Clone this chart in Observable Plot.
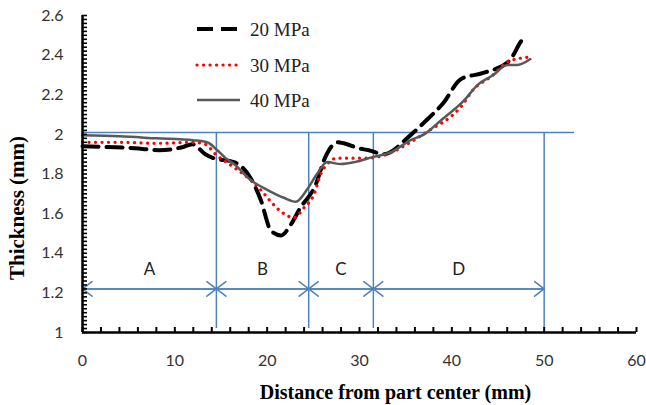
<!DOCTYPE html>
<html><head><meta charset="utf-8">
<script src="https://cdn.jsdelivr.net/npm/d3@7"></script>
<script src="https://cdn.jsdelivr.net/npm/@observablehq/plot@0.6"></script>
<style>
body{margin:0;background:#fff}
#wrap{position:relative;width:646px;height:405px}
#legend{position:absolute;left:0;top:0;pointer-events:none}
</style>
</head><body><div id="wrap"></div>
<script>
// ---- data ----
const series = ["20 MPa", "30 MPa", "40 MPa"];

const x20 = [0, 3.6, 5.7, 8.3, 10.8, 11.9, 13.3, 14.2, 16.4, 18.2, 19.3, 20.4, 21.5, 22.5, 23.6, 25.2, 26.3, 27.6, 28.3, 29.9, 31, 32.6, 35.5, 37, 39.1, 41, 43.4, 46.2, 47.5, 48];
const y20 = [1.94, 1.935, 1.93, 1.92, 1.935, 1.95, 1.90, 1.88, 1.86, 1.78, 1.67, 1.515, 1.49, 1.54, 1.63, 1.74, 1.885, 1.96, 1.955, 1.93, 1.92, 1.90, 1.995, 2.06, 2.16, 2.28, 2.31, 2.37, 2.47, 2.50];

const x30 = [0, 4, 8, 12, 13.3, 14.4, 16.2, 18.2, 19.3, 20.4, 21.5, 22.9, 24.0, 25.1, 25.8, 26.5, 27.6, 30.8, 33, 35.5, 37.9, 39.9, 41, 42.4, 44.2, 46.2, 48.5];
const y30 = [1.96, 1.96, 1.955, 1.96, 1.95, 1.90, 1.84, 1.77, 1.72, 1.66, 1.61, 1.58, 1.63, 1.70, 1.80, 1.85, 1.88, 1.88, 1.90, 1.96, 2.03, 2.09, 2.14, 2.23, 2.29, 2.37, 2.39];

const x40 = [0, 4, 8, 12, 13.5, 14.6, 15.5, 16.4, 18.2, 20.0, 21.8, 23.1, 24.3, 25.4, 26.5, 28.0, 29.5, 31.4, 33.4, 35.5, 37, 38.8, 41.3, 42.8, 44.5, 46.0, 47.1, 48.5];
const y40 = [1.995, 1.99, 1.98, 1.97, 1.96, 1.92, 1.88, 1.85, 1.77, 1.72, 1.68, 1.66, 1.72, 1.80, 1.86, 1.85, 1.86, 1.885, 1.91, 1.97, 2.0, 2.07, 2.17, 2.25, 2.30, 2.35, 2.35, 2.38];

const xTicks = [0, 10, 20, 30, 40, 50, 60];
const yTicks = [1, 1.2, 1.4, 1.6, 1.8, 2, 2.2, 2.4, 2.6];

const boundaries = [0, 14.5, 24.5, 31.5, 50];
const zones = ["A", "B", "C", "D"];
const refLevel = 2.01, refEnd = 53.3;
const arrowLevel = 1.22, zoneLabelLevel = 1.32, dividerBottom = 1.02;

const xTitle = "Distance from part center (mm)";
const yTitle = "Thickness (mm)";

// ---- tables ----
const rows = [];
[[x20, y20], [x30, y30], [x40, y40]].forEach(([xs, ys], i) =>
  xs.forEach((x, j) => rows.push({series: series[i], x, y: ys[j]})));

const zoneRows = zones.map((z, i) => ({z, a: boundaries[i], b: boundaries[i + 1], m: (boundaries[i] + boundaries[i + 1]) / 2}));
const dividers = boundaries.slice(1);

const styles = {
  "20 MPa": {stroke: "#000", strokeWidth: 4, strokeDasharray: "16 8"},
  "30 MPa": {stroke: "#ff0000", strokeWidth: 3.2, strokeDasharray: "0.1 6.4", strokeLinecap: "round"},
  "40 MPa": {stroke: "#595959", strokeWidth: 2.5}
};
const blue = "#4f81bd";
const minorX = d3.range(0, 60.001, 2);
const minorY = d3.range(1, 2.6001, 0.02);

const W = 646, H = 405, mL = 82, mR = 10, mT = 15, mB = 73;
const xDom = [0, 60], yDom = [1, 2.6];
const tickPx = 5;
// inward tick length expressed in data units of the crossing axis
const tickLenY = tickPx * (yDom[1] - yDom[0]) / (H - mT - mB);
const tickLenX = tickPx * (xDom[1] - xDom[0]) / (W - mL - mR);
const serif = "'Liberation Serif', 'Times New Roman', serif";

const chart = Plot.plot({
  width: W, height: H,
  marginLeft: mL, marginRight: mR, marginTop: mT, marginBottom: mB,
  x: {domain: xDom},
  y: {domain: yDom},
  style: {fontFamily: "Lato, 'Open Sans', sans-serif", fontSize: "16px", color: "#333", background: "#fff"},
  marks: [
    // reference line and dividers
    Plot.ruleY([refLevel], {x1: 0, x2: refEnd, stroke: blue, strokeWidth: 1.5}),
    Plot.ruleX(dividers, {y1: dividerBottom, y2: refLevel, stroke: blue, strokeWidth: 1.5}),
    // double arrows
    Plot.arrow(zoneRows, {x1: "a", x2: "b", y1: arrowLevel, y2: arrowLevel, stroke: blue, strokeWidth: 1.5, headLength: 12, headAngle: 75}),
    Plot.arrow(zoneRows, {x1: "b", x2: "a", y1: arrowLevel, y2: arrowLevel, stroke: blue, strokeWidth: 1.5, headLength: 12, headAngle: 75}),
    Plot.text(zoneRows, {x: "m", y: zoneLabelLevel, text: "z", fontSize: 17, fill: "#222"}),
    // series
    ...series.map(s => Plot.line(rows.filter(r => r.series === s), {x: "x", y: "y", curve: "monotone-x", ...styles[s]})),
    // inward minor ticks
    Plot.ruleX(minorX, {x: d => d, y1: yDom[0], y2: yDom[0] + tickLenY, stroke: "#000", strokeWidth: 2}),
    Plot.ruleY(minorY, {y: d => d, x1: xDom[0], x2: xDom[0] + tickLenX, stroke: "#000", strokeWidth: 1.6}),
    // tick labels
    Plot.axisX({ticks: xTicks, tickSize: 0, tickPadding: 22, tickFormat: d => String(d), label: null}),
    Plot.axisY({ticks: yTicks, tickSize: 0, tickPadding: 19, tickFormat: d => String(+d.toFixed(1)), label: null}),
    // axis lines
    Plot.ruleX([0], {stroke: "#000", strokeWidth: 2.5}),
    Plot.ruleY([1], {stroke: "#000", strokeWidth: 2.5}),
    // titles
    Plot.text([xTitle], {frameAnchor: "bottom", textAnchor: "middle", lineAnchor: "middle", dx: 36, dy: 60, text: d => d, fontFamily: serif, fontWeight: "bold", fontSize: 20, fill: "#000"}),
    Plot.text([yTitle], {frameAnchor: "left", textAnchor: "middle", lineAnchor: "middle", dx: -65, dy: 34, rotate: -90, text: d => d, fontFamily: serif, fontWeight: "bold", fontSize: 21, fill: "#000"})
  ]
});

const wrap = document.getElementById("wrap");
wrap.appendChild(chart);

// legend overlay
const leg = d3.select(wrap).append("svg").attr("id", "legend").attr("width", W).attr("height", 120);
const legY = [29, 65, 100];
series.forEach((s, i) => {
  const st = styles[s];
  leg.append("line").attr("x1", 197).attr("x2", 240).attr("y1", legY[i]).attr("y2", legY[i])
    .attr("stroke", st.stroke).attr("stroke-width", st.strokeWidth)
    .attr("stroke-dasharray", st.strokeDasharray || null)
    .attr("stroke-linecap", st.strokeLinecap || null);
  leg.append("text").attr("x", 250).attr("y", legY[i]).attr("dy", "0.35em")
    .attr("font-family", serif).attr("font-size", 19)
    .attr("fill", "#222").text(s);
});
</script>
</body></html>
